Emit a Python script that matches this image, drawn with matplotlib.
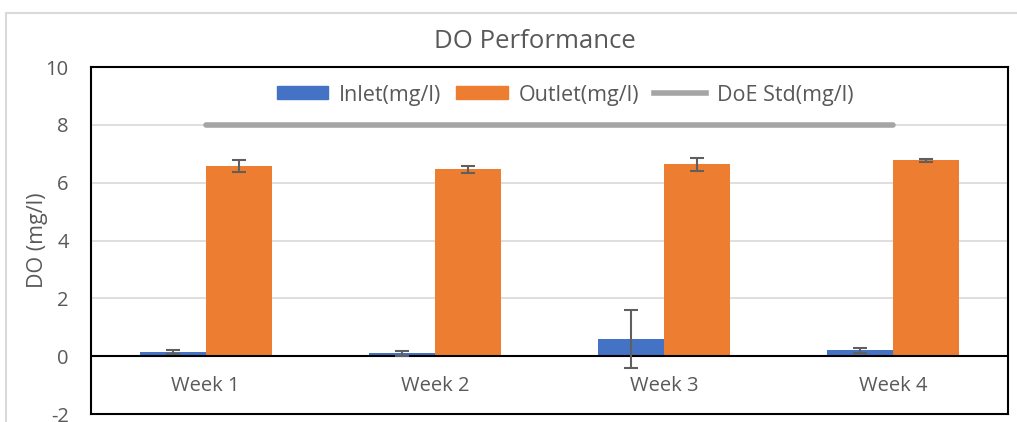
import matplotlib
matplotlib.use("Agg")
import matplotlib.pyplot as plt
import matplotlib.patches as mpatches
from matplotlib.lines import Line2D
import numpy as np

weeks = ["Week 1", "Week 2", "Week 3", "Week 4"]
inlet = [0.15, 0.10, 0.59, 0.20]
inlet_err = [0.06, 0.08, 1.00, 0.09]
outlet = [6.58, 6.47, 6.63, 6.78]
outlet_err = [0.21, 0.12, 0.23, 0.05]
doe_std = [8, 8, 8, 8]

plt.rcParams["font.family"] = ["Open Sans", "DejaVu Sans"]
plt.rcParams["axes.unicode_minus"] = False
text_col = "#595959"
fs = 14.5

fig = plt.figure(figsize=(10.17, 4.22), dpi=100, facecolor="white")
ax = fig.add_axes([91 / 1017, 1 - 414 / 422, (1008 - 91) / 1017, (414 - 67) / 422])

# outer chart border (cropped at right/bottom)
fig.patches.append(mpatches.Rectangle((6 / 1017, -0.1), 1.2, 1 - 13 / 422 + 0.1,
                                      transform=fig.transFigure, fill=False,
                                      edgecolor="#D9D9D9", linewidth=1.5))

x = np.arange(len(weeks))
w = 0.288
ekw = dict(ecolor="#5f5f5f", elinewidth=1.5, capsize=5, capthick=1.5, zorder=5)
ax.bar(x - w / 2, inlet, w, color="#4472C4", yerr=inlet_err, error_kw=ekw, zorder=3)
ax.bar(x + w / 2, outlet, w, color="#ED7D31", yerr=outlet_err, error_kw=ekw, zorder=3)
ax.plot(x, doe_std, color="#A5A5A5", linewidth=4, solid_capstyle="round", zorder=4)
ax.axhline(0, color="black", linewidth=1.5, zorder=4)

ax.set_xlim(-0.5, len(weeks) - 0.5)
ax.set_ylim(-2, 10)
ax.set_yticks(np.arange(-2, 11, 2))
ax.grid(axis="y", color="#D9D9D9", linewidth=1.2, zorder=0)
ax.set_axisbelow(True)
ax.tick_params(axis="y", length=0, labelsize=fs, labelcolor=text_col, pad=16)
ax.set_xticks([])
for s in ax.spines.values():
    s.set_color("black")
    s.set_linewidth(1.5)

# category axis at y = 0
sec = ax.secondary_xaxis(2 / 12)
sec.set_xticks(x)
sec.set_xticklabels(weeks)
sec.tick_params(length=0, labelsize=fs, labelcolor=text_col, pad=14)
sec.spines["bottom"].set_visible(False)

ax.set_ylabel("DO (mg/l)", fontsize=fs + 1, color=text_col, labelpad=-2)
fig.text(535 / 1017, 1 - 41 / 422, "DO Performance", ha="center", va="center",
         fontsize=18.5, color=text_col)

handles = [mpatches.Patch(color="#4472C4"), mpatches.Patch(color="#ED7D31"),
           Line2D([], [], color="#A5A5A5", linewidth=4)]
ax.legend(handles, ["Inlet(mg/l)", "Outlet(mg/l)", "DoE Std(mg/l)"], ncol=3,
          loc="center", bbox_to_anchor=(565 / 1017, 1 - 95 / 422),
          bbox_transform=fig.transFigure, frameon=False, fontsize=15.5,
          labelcolor=text_col, handlelength=2.4, handleheight=0.55,
          handletextpad=0.5, columnspacing=0.7)

fig.savefig("out.png", dpi=100, facecolor="white")
